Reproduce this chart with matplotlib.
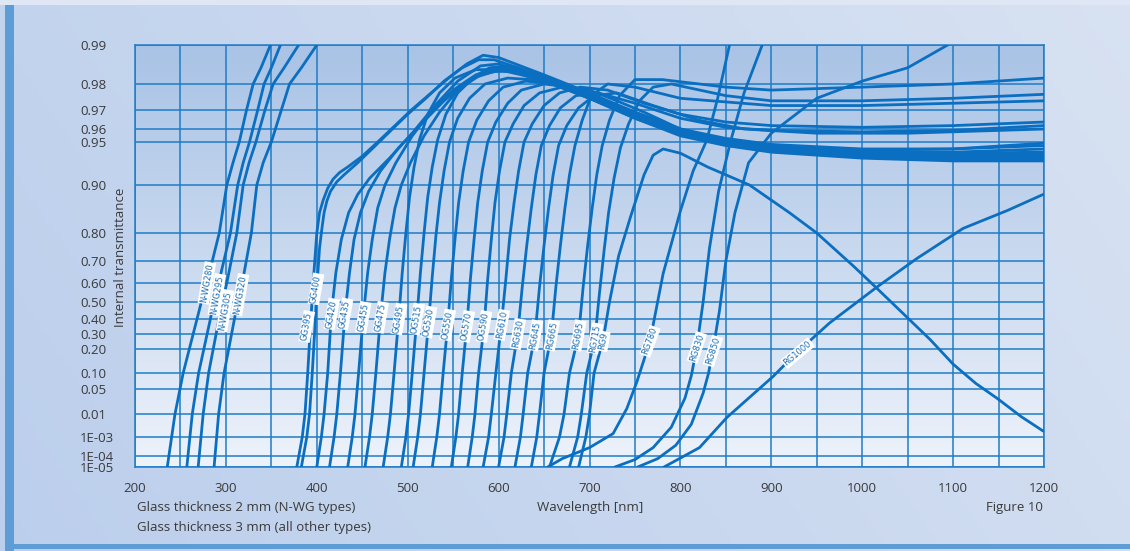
import numpy as np
import matplotlib
matplotlib.use("Agg")
import matplotlib.pyplot as plt
from matplotlib.colors import LinearSegmentedColormap

# ---------------- data (wavelength [nm], internal transmittance) ----------------
NWG280_wl = [235.5, 244, 253, 273, 279, 292.7, 301, 307.8, 314.7, 322.7, 330, 338.6, 349]
NWG280_T = [1e-5, 0.01, 0.1, 0.5, 0.6, 0.8, 0.9, 0.93, 0.95, 0.97, 0.98, 0.985, 0.99]
NWG295_wl = [257, 263, 270, 287, 292, 305, 313, 319, 326, 335, 342, 350, 360]
NWG295_T = [1e-5, 0.01, 0.1, 0.5, 0.6, 0.8, 0.9, 0.93, 0.95, 0.97, 0.98, 0.985, 0.99]
NWG305_wl = [269.5, 275, 281, 296, 301, 312, 319, 325.5, 333, 343, 352, 364, 380]
NWG305_T = [1e-5, 0.01, 0.1, 0.5, 0.6, 0.8, 0.9, 0.93, 0.95, 0.97, 0.98, 0.985, 0.99]
NWG320_wl = [287, 292, 298, 313, 318, 328, 334, 341, 350, 361, 370, 383, 400]
NWG320_T = [1e-5, 0.01, 0.1, 0.5, 0.6, 0.8, 0.9, 0.93, 0.95, 0.97, 0.98, 0.985, 0.99]

GG395_wl = [378, 384, 387, 390, 393, 396, 400, 403, 407, 412, 418, 425, 434, 450, 467, 484, 504, 524, 545, 565, 583, 600, 650, 700, 750, 800, 850, 900, 1000, 1100, 1200]
GG395_T = [1e-5, 1e-3, 0.01, 0.1, 0.35, 0.6, 0.8, 0.85, 0.875, 0.895, 0.909, 0.918, 0.925, 0.937, 0.950, 0.961, 0.970, 0.9765, 0.982, 0.986, 0.988, 0.9875, 0.983, 0.977, 0.969, 0.960, 0.952, 0.947, 0.942, 0.940, 0.941]
GG400_wl = [383, 389, 392, 395, 398, 400, 403, 405.5, 408, 411, 415, 422, 430, 445, 462, 480, 500, 520, 540, 560, 578, 595, 650, 700, 750, 800, 850, 900, 1000, 1100, 1200]
GG400_T = [1e-5, 1e-3, 0.01, 0.1, 0.35, 0.57, 0.75, 0.81, 0.85, 0.873, 0.89, 0.905, 0.915, 0.930, 0.945, 0.958, 0.968, 0.975, 0.981, 0.985, 0.987, 0.987, 0.9825, 0.976, 0.968, 0.958, 0.951, 0.946, 0.940, 0.938, 0.939]
GG420_wl = [400, 405, 408, 412, 416, 421, 427, 435, 445, 458, 480, 505, 530, 555, 580, 600, 650, 700, 750, 800, 850, 900, 1000, 1100, 1200]
GG420_T = [1e-5, 1e-3, 0.01, 0.1, 0.43, 0.65, 0.78, 0.85, 0.885, 0.91, 0.935, 0.957, 0.972, 0.981, 0.9855, 0.986, 0.9815, 0.975, 0.966, 0.956, 0.949, 0.944, 0.938, 0.935, 0.936]
GG435_wl = [414, 419, 422, 426, 431, 436, 441, 448, 457, 470, 490, 515, 540, 565, 590, 610, 650, 700, 750, 800, 850, 900, 1000, 1100, 1200]
GG435_T = [1e-5, 1e-3, 0.01, 0.1, 0.43, 0.65, 0.78, 0.85, 0.89, 0.92, 0.945, 0.963, 0.974, 0.981, 0.985, 0.9855, 0.982, 0.976, 0.967, 0.957, 0.950, 0.945, 0.940, 0.937, 0.938]
GG455_wl = [434, 439, 442, 446, 451, 456, 461, 467, 475, 487, 505, 525, 550, 575, 600, 620, 650, 700, 750, 800, 850, 900, 1000, 1100, 1200]
GG455_T = [1e-5, 1e-3, 0.01, 0.1, 0.41, 0.65, 0.78, 0.86, 0.90, 0.93, 0.955, 0.969, 0.978, 0.983, 0.985, 0.985, 0.982, 0.975, 0.966, 0.955, 0.947, 0.941, 0.935, 0.932, 0.932]
GG475_wl = [453, 458, 461, 465, 470, 475, 480, 486, 493, 503, 518, 535, 555, 580, 605, 625, 650, 700, 750, 800, 850, 900, 1000, 1100, 1200]
GG475_T = [1e-5, 1e-3, 0.01, 0.1, 0.41, 0.65, 0.78, 0.86, 0.90, 0.93, 0.955, 0.969, 0.978, 0.983, 0.9845, 0.984, 0.9815, 0.9755, 0.967, 0.957, 0.949, 0.943, 0.937, 0.934, 0.934]
GG495_wl = [473, 478, 481, 485, 490, 494, 498, 502, 507, 513, 522, 535, 552, 575, 600, 625, 650, 700, 750, 800, 850, 900, 1000, 1100, 1200]
GG495_T = [1e-5, 1e-3, 0.01, 0.1, 0.40, 0.65, 0.80, 0.88, 0.925, 0.952, 0.968, 0.977, 0.982, 0.9845, 0.9845, 0.983, 0.981, 0.975, 0.967, 0.958, 0.951, 0.946, 0.942, 0.941, 0.944]
OG515_wl = [493, 498, 501, 505, 510, 514, 518, 522, 527, 533, 542, 555, 572, 595, 620, 650, 700, 750, 800, 850, 900, 1000, 1100, 1200]
OG515_T = [1e-5, 1e-3, 0.01, 0.1, 0.40, 0.65, 0.80, 0.88, 0.925, 0.952, 0.968, 0.977, 0.982, 0.984, 0.984, 0.982, 0.9765, 0.969, 0.960, 0.953, 0.948, 0.944, 0.944, 0.947]
OG530_wl = [506, 511, 514, 518, 523, 527, 531, 535, 540, 546, 555, 568, 585, 610, 635, 660, 700, 750, 800, 850, 900, 1000, 1100, 1200]
OG530_T = [1e-5, 1e-3, 0.01, 0.1, 0.38, 0.63, 0.79, 0.87, 0.92, 0.95, 0.966, 0.975, 0.98, 0.982, 0.9815, 0.980, 0.975, 0.967, 0.957, 0.949, 0.944, 0.938, 0.936, 0.938]
OG550_wl = [527, 532, 535, 539, 544, 548, 552, 556, 561, 567, 576, 589, 605, 630, 660, 700, 750, 800, 850, 900, 1000, 1100, 1200]
OG550_T = [1e-5, 1e-3, 0.01, 0.1, 0.36, 0.62, 0.78, 0.87, 0.92, 0.95, 0.965, 0.974, 0.979, 0.981, 0.980, 0.976, 0.968, 0.959, 0.952, 0.947, 0.943, 0.944, 0.949]
OG570_wl = [548, 553, 556, 560, 565, 569, 573, 577, 582, 588, 597, 610, 625, 650, 680, 710, 750, 800, 850, 900, 1000, 1100, 1200]
OG570_T = [1e-5, 1e-3, 0.01, 0.1, 0.35, 0.62, 0.78, 0.87, 0.92, 0.95, 0.964, 0.973, 0.978, 0.980, 0.979, 0.975, 0.968, 0.958, 0.950, 0.944, 0.939, 0.938, 0.940]
OG590_wl = [566, 571, 574, 578, 584, 588, 592, 596, 601, 607, 616, 628, 645, 670, 700, 730, 760, 800, 850, 900, 1000, 1100, 1200]
OG590_T = [1e-5, 1e-3, 0.01, 0.1, 0.35, 0.62, 0.78, 0.87, 0.92, 0.95, 0.963, 0.972, 0.977, 0.979, 0.978, 0.974, 0.969, 0.960, 0.951, 0.945, 0.939, 0.936, 0.936]
RG610_wl = [583, 589, 592, 597, 603, 608, 612, 617, 622, 628, 637, 650, 667, 690, 720, 760, 800, 850, 900, 1000, 1100, 1200]
RG610_T = [1e-5, 1e-3, 0.01, 0.1, 0.36, 0.62, 0.78, 0.87, 0.92, 0.95, 0.963, 0.972, 0.977, 0.979, 0.978, 0.973, 0.968, 0.964, 0.962, 0.961, 0.962, 0.964]
RG630_wl = [600, 606, 609, 614, 621, 626, 631, 636, 641, 647, 656, 668, 685, 710, 750, 800, 850, 900, 1000, 1100, 1200]
RG630_T = [1e-5, 1e-3, 0.01, 0.1, 0.30, 0.58, 0.76, 0.86, 0.915, 0.947, 0.962, 0.971, 0.976, 0.977, 0.973, 0.966, 0.961, 0.959, 0.958, 0.959, 0.962]
RG645_wl = [618, 624, 627, 632, 640, 645, 650, 655, 660, 666, 675, 688, 705, 730, 770, 820, 870, 950, 1050, 1200]
RG645_T = [1e-5, 1e-3, 0.01, 0.1, 0.29, 0.58, 0.76, 0.86, 0.915, 0.947, 0.962, 0.971, 0.976, 0.977, 0.972, 0.965, 0.960, 0.957, 0.957, 0.960]
RG665_wl = [636, 642, 645, 650, 658, 663, 668, 673, 678, 684, 692, 702, 720, 750, 800, 900, 1000, 1100, 1200]
RG665_T = [1e-5, 1e-3, 0.01, 0.1, 0.29, 0.58, 0.76, 0.86, 0.915, 0.947, 0.965, 0.976, 0.980, 0.979, 0.975, 0.972, 0.972, 0.973, 0.974]
RG695_wl = [656, 667, 672, 678, 688, 693, 698, 703, 708, 714, 722, 733, 750, 780, 850, 900, 1000, 1100, 1200]
RG695_T = [1e-5, 1e-3, 0.01, 0.1, 0.29, 0.58, 0.76, 0.86, 0.915, 0.947, 0.965, 0.976, 0.9815, 0.9815, 0.979, 0.978, 0.979, 0.980, 0.982]
RG715_wl = [678, 687, 691, 697, 706, 711, 716, 721, 727, 734, 743, 755, 770, 790, 850, 900, 1000, 1100, 1200]
RG715_T = [1e-5, 1e-3, 0.01, 0.1, 0.27, 0.55, 0.74, 0.85, 0.91, 0.945, 0.963, 0.974, 0.979, 0.980, 0.976, 0.974, 0.974, 0.975, 0.9765]
RG9_wl = [688, 696, 700, 705, 715, 722, 732, 745, 760, 770, 781, 800, 830, 876, 920, 950, 990, 1016, 1049, 1075, 1100, 1125, 1149, 1175, 1199]
RG9_T = [1e-5, 1e-3, 0.01, 0.1, 0.26, 0.5, 0.72, 0.84, 0.915, 0.938, 0.944, 0.94, 0.925, 0.90, 0.85, 0.80, 0.68, 0.574, 0.412, 0.26, 0.133, 0.065, 0.029, 0.008, 0.002]
RG780_wl = [654, 670, 700, 726, 741, 752, 766.5, 781, 800, 814, 829, 841, 854]
RG780_T = [1e-5, 6e-5, 3e-4, 1.5e-3, 0.015, 0.069, 0.25, 0.645, 0.854, 0.92, 0.9515, 0.975, 0.99]
RG830_wl = [728, 750, 770, 790, 805, 812, 818, 825, 832, 842, 855, 870, 890]
RG830_T = [1e-5, 5e-5, 3e-4, 3e-3, 0.03, 0.09, 0.21, 0.5, 0.75, 0.89, 0.95, 0.977, 0.99]
RG850_wl = [753, 775, 795, 812, 825, 831, 836, 843, 850, 860, 875, 900, 950, 1000, 1050, 1094]
RG850_T = [1e-5, 6e-5, 4e-4, 4e-3, 0.04, 0.1, 0.2, 0.45, 0.7, 0.85, 0.93, 0.957, 0.975, 0.981, 0.985, 0.99]
RG1000_wl = [782, 821, 851, 902, 928, 964, 1016, 1060, 1111, 1160, 1199]
RG1000_T = [1e-5, 3e-4, 0.0074, 0.0875, 0.183, 0.373, 0.579, 0.71, 0.8125, 0.855, 0.885]

curve_names = ["N-WG280", "N-WG295", "N-WG305", "N-WG320", "GG395", "GG400", "GG420", "GG435",
               "GG455", "GG475", "GG495", "OG515", "OG530", "OG550", "OG570", "OG590", "RG610",
               "RG630", "RG645", "RG665", "RG695", "RG715", "RG9", "RG780", "RG830", "RG850", "RG1000"]
label_wl = [279, 290, 299, 315.5, 388.9, 399.1, 416.4, 431, 451.1, 470.3, 490.4, 509.9, 523.4, 544,
            564.9, 583.9, 603.4, 621, 640, 658.4, 687.6, 706, 715.1, 766.5, 818, 835.8, 929]
label_T = [0.6, 0.54, 0.45, 0.54, 0.35, 0.57, 0.43, 0.43, 0.41, 0.41, 0.40, 0.40, 0.38, 0.36,
           0.35, 0.35, 0.36, 0.30, 0.29, 0.29, 0.29, 0.27, 0.25, 0.25, 0.21, 0.19, 0.18]

y_ticks = [1e-5, 1e-4, 1e-3, 0.01, 0.05, 0.10, 0.20, 0.30, 0.40, 0.50, 0.60, 0.70, 0.80,
           0.90, 0.95, 0.96, 0.97, 0.98, 0.99]
y_ticklabels = ["1E-05", "1E-04", "1E-03", "0.01", "0.05", "0.10", "0.20", "0.30", "0.40", "0.50",
                "0.60", "0.70", "0.80", "0.90", "0.95", "0.96", "0.97", "0.98", "0.99"]
x_ticks = [200, 300, 400, 500, 600, 700, 800, 900, 1000, 1100, 1200]

curves = [
    (NWG280_wl, NWG280_T), (NWG295_wl, NWG295_T), (NWG305_wl, NWG305_T), (NWG320_wl, NWG320_T),
    (GG395_wl, GG395_T), (GG400_wl, GG400_T), (GG420_wl, GG420_T), (GG435_wl, GG435_T),
    (GG455_wl, GG455_T), (GG475_wl, GG475_T), (GG495_wl, GG495_T), (OG515_wl, OG515_T),
    (OG530_wl, OG530_T), (OG550_wl, OG550_T), (OG570_wl, OG570_T), (OG590_wl, OG590_T),
    (RG610_wl, RG610_T), (RG630_wl, RG630_T), (RG645_wl, RG645_T), (RG665_wl, RG665_T),
    (RG695_wl, RG695_T), (RG715_wl, RG715_T), (RG9_wl, RG9_T), (RG780_wl, RG780_T),
    (RG830_wl, RG830_T), (RG850_wl, RG850_T), (RG1000_wl, RG1000_T)]

# ---------------- scale: double-log axis, gridlines placed as in the print ----------------
grid_pos = np.array([0, 11, 30, 53, 78, 94, 118, 133, 148, 165, 184, 206, 234, 282, 325,
                     338, 357, 383, 422], dtype=float)


def _g(t):
    t = np.clip(np.asarray(t, dtype=float), 1e-12, 1 - 1e-12)
    return -np.log(-np.log(t))


_gk = _g(y_ticks)


def fwd(t):
    return np.interp(_g(t), _gk, grid_pos)


def inv(p):
    return np.exp(-np.exp(-np.interp(np.asarray(p, dtype=float), grid_pos, _gk)))


W, H = 1130, 551
fig = plt.figure(figsize=(W / 100, H / 100), dpi=100)

# figure background
bg = fig.add_axes([0, 0, 1, 1], zorder=-10)
bg.set_axis_off()
xx = np.linspace(0, 1, 300)[None, :]
yy = np.linspace(0, 1, 150)[:, None]
c0 = np.array([0.735, 0.81, 0.925])
c1 = np.array([0.845, 0.885, 0.950])
mix = np.clip(0.75 * xx + 0.25 * (1 - yy), 0, 1)[..., None]
img = c0 * (1 - mix) + c1 * mix
bg.imshow(img, extent=[0, W, 0, H], aspect="auto", origin="upper")
bg.set_xlim(0, W)
bg.set_ylim(0, H)
bg.add_patch(plt.Rectangle((0, H - 5), W, 5, color="#dfe7f4", lw=0))
bg.add_patch(plt.Rectangle((5, 0), 9, H - 5, color="#5e9cd6", lw=0))
bg.add_patch(plt.Rectangle((5, 2), W, 5, color="#5e9cd6", lw=0))

L, R, T_, B = 135, 1044, 45, 467
ax = fig.add_axes([L / W, 1 - B / H, (R - L) / W, (B - T_) / H])
ax.set_yscale("function", functions=(fwd, inv))
ax.set_xlim(200, 1200)
ax.set_ylim(1e-5, 0.99)

# plot-area gradient
cmap = LinearSegmentedColormap.from_list("bgc", ["#eef3fb", "#c9d9ef", "#a9c3e6"])
grad = np.linspace(0, 1, 256)[:, None]
ax.imshow(grad, extent=[0, 1, 0, 1], transform=ax.transAxes, cmap=cmap, origin="lower",
          aspect="auto", zorder=0)

grid_color = "#1f7cc6"
ax.set_yticks(y_ticks)
ax.set_yticklabels(y_ticklabels)
ax.set_xticks(x_ticks)
ax.set_xticks([250, 350, 450, 550, 650, 750, 850, 950, 1050, 1150], minor=True)
ax.yaxis.set_minor_locator(matplotlib.ticker.NullLocator())
ax.grid(True, which="both", color=grid_color, lw=1.1, zorder=1)
ax.tick_params(axis="both", which="both", length=0)
ax.tick_params(axis="y", pad=39.6, labelsize=9.5, labelcolor="#3a3a3a")
ax.tick_params(axis="x", pad=11, labelsize=9.5, labelcolor="#3a3a3a")
for lab in ax.get_yticklabels():
    lab.set_horizontalalignment("left")
for sp in ax.spines.values():
    sp.set_color(grid_color)
    sp.set_linewidth(1.1)

line_color = "#0b6fc1"
for wl, tr in curves:
    ax.plot(wl, tr, color=line_color, lw=2.0, zorder=3, solid_joinstyle="round",
            solid_capstyle="round", clip_on=True)

rot = {"RG1000": 40, "RG780": 70, "RG830": 72, "RG850": 72}
for name, lw_, lt in zip(curve_names, label_wl, label_T):
    ax.text(lw_, lt, name, rotation=rot.get(name, 80), fontsize=6.0, color="#1b6fb8",
            family=["Liberation Sans Narrow", "DejaVu Sans"], ha="center", va="center",
            rotation_mode="anchor", zorder=5,
            bbox=dict(boxstyle="square,pad=0.15", fc="white", ec="none"))

font = ["Open Sans", "DejaVu Sans"]
for lab in ax.get_xticklabels() + ax.get_yticklabels():
    lab.set_family(font)

fig.text(120 / W, 1 - 257 / H, "Internal transmittance", rotation=90, ha="center", va="center",
         fontsize=9.5, color="#3a3a3a", family=font)
fig.text(590 / W, 1 - 508 / H, "Wavelength [nm]", ha="center", va="center", fontsize=9.5,
         color="#3a3a3a", family=font)
fig.text(137 / W, 1 - 508 / H, "Glass thickness 2 mm (N-WG types)", ha="left", va="center",
         fontsize=9.5, color="#3a3a3a", family=font)
fig.text(137 / W, 1 - 527 / H, "Glass thickness 3 mm (all other types)", ha="left", va="center",
         fontsize=9.5, color="#3a3a3a", family=font)
fig.text(1043 / W, 1 - 508 / H, "Figure 10", ha="right", va="center", fontsize=9.5,
         color="#3a3a3a", family=font)

fig.savefig("out.png", dpi=100)
